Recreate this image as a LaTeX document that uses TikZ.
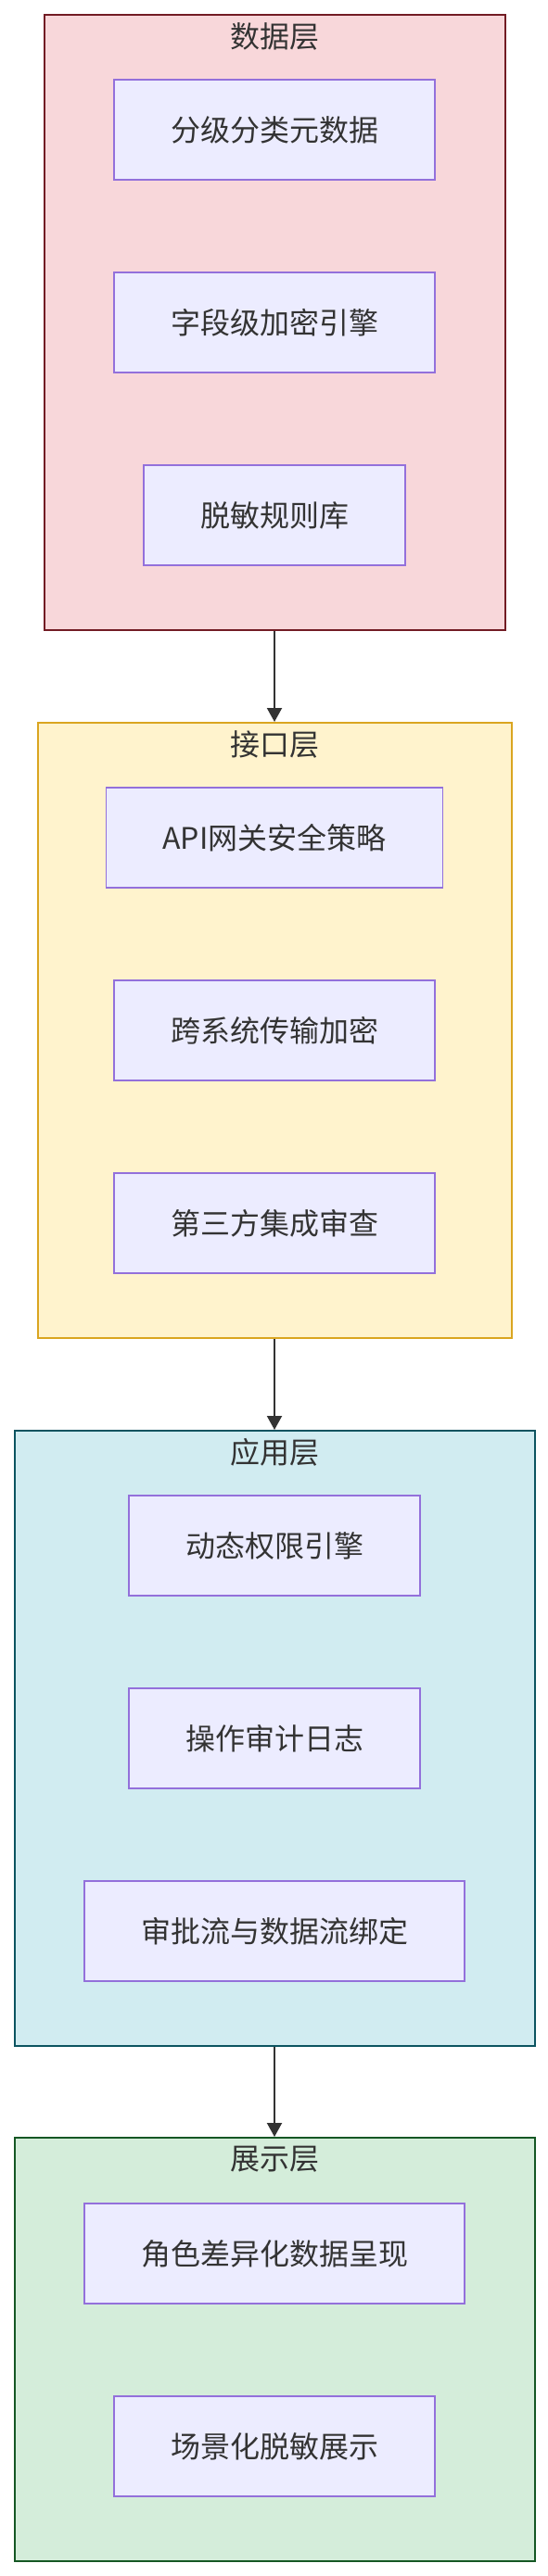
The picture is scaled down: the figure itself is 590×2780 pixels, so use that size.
\documentclass[tikz,border=0pt]{standalone}
\usepackage{fontspec}
\setmainfont{Noto Sans CJK SC}
\usetikzlibrary{arrows.meta}
\definecolor{txt}{RGB}{51,51,51}
\definecolor{itemfill}{RGB}{236,236,255}
\definecolor{itemline}{RGB}{147,112,219}
\definecolor{datafill}{RGB}{248,215,218}
\definecolor{dataline}{RGB}{114,28,36}
\definecolor{apifill}{RGB}{255,243,205}
\definecolor{apiline}{RGB}{218,165,32}
\definecolor{appfill}{RGB}{209,236,241}
\definecolor{appline}{RGB}{12,84,96}
\definecolor{viewfill}{RGB}{212,237,218}
\definecolor{viewline}{RGB}{21,87,36}
\tikzset{
  layerbox/.style={draw, line width=1pt, inner sep=0pt},
  layertitle/.style={text=txt, font=\fontsize{16pt}{18pt}\selectfont, inner sep=0pt},
  itembox/.style={draw=itemline, fill=itemfill, line width=0.9pt, text=txt,
    font=\fontsize{16pt}{18pt}\selectfont, inner xsep=30.5pt, minimum height=54pt},
  flow/.style={draw=txt, line width=1pt, -{Triangle[length=7.5pt,width=8pt]}}
}
% name, fill, line, width, height, centre y, title
\newcommand{\drawlayer}[7]{
  \node[layerbox, fill=#2, draw=#3, minimum width=#4*0.5pt, minimum height=#5*0.5pt] (#1) at (296,#6) {};
  \node[layertitle] (#1-title) at ([yshift=-12pt]#1.north) {#7};
}
\newcommand{\itemnode}[3]{\node[itembox] (#1) at (296,#2) {#3};}

\begin{document}
\begin{tikzpicture}[x=0.5pt, y=-0.5pt]
\useasboundingbox (0,0) rectangle (590,2780);
\drawlayer{data}{datafill}{dataline}{497}{664}{348}{数据层}
\drawlayer{api}{apifill}{apiline}{511}{664}{1112}{接口层}
\drawlayer{app}{appfill}{appline}{561}{664}{1876}{应用层}
\drawlayer{view}{viewfill}{viewline}{561}{457}{2535.5}{展示层}
\itemnode{meta}{140}{分级分类元数据}
\itemnode{crypt}{348}{字段级加密引擎}
\itemnode{mask}{556}{脱敏规则库}
\itemnode{gate}{904}{API网关安全策略}
\itemnode{trans}{1112}{跨系统传输加密}
\itemnode{third}{1320}{第三方集成审查}
\itemnode{perm}{1668}{动态权限引擎}
\itemnode{audit}{1876}{操作审计日志}
\itemnode{bind}{2084}{审批流与数据流绑定}
\itemnode{role}{2432}{角色差异化数据呈现}
\itemnode{scene}{2640}{场景化脱敏展示}
\draw[flow] (data) -- (api);
\draw[flow] (api) -- (app);
\draw[flow] (app) -- (view);
\end{tikzpicture}
\end{document}
